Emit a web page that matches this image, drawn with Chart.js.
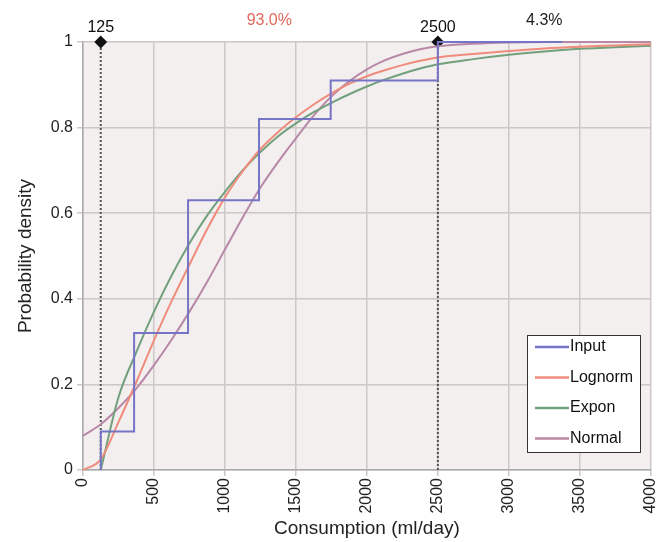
<!DOCTYPE html>
<html>
<head>
<meta charset="utf-8">
<script src="https://cdn.jsdelivr.net/npm/chart.js@4/dist/chart.umd.min.js"></script>
<style>
  html, body { margin: 0; padding: 0; background: #fff; }
  #wrap { width: 672px; height: 542px; }
</style>
</head>
<body>
<div id="wrap"><canvas id="cdfChart" width="672" height="542"></canvas></div>
<script>
// values
const consumption = [0, 125, 250, 375, 500, 625, 750, 875, 1000, 1125, 1250, 1375, 1500, 1625,
                     1750, 1875, 2000, 2125, 2250, 2375, 2500, 2750, 3000, 3250, 3500, 3750, 4000];
const lognorm = [0.0, 0.025, 0.112, 0.205, 0.303, 0.395, 0.48, 0.563, 0.637, 0.698, 0.75, 0.79, 0.824, 0.854,
                 0.88, 0.902, 0.92, 0.934, 0.946, 0.956, 0.964, 0.972, 0.979, 0.985, 0.989, 0.992, 0.995];
const expon = [null, 0, 0.17, 0.275, 0.37, 0.455, 0.53, 0.595, 0.65, 0.70, 0.743, 0.78, 0.81, 0.836,
               0.858, 0.878, 0.896, 0.912, 0.926, 0.938, 0.948, 0.96, 0.97, 0.978, 0.984, 0.988, 0.991];
const normal = [0.08, 0.107, 0.145, 0.19, 0.245, 0.305, 0.37, 0.44, 0.515, 0.59, 0.66, 0.72, 0.775, 0.828,
                0.873, 0.908, 0.936, 0.957, 0.972, 0.983, 0.99, 0.996, 0.999, 1, 1, 1, 1];

// empirical input (step)
const inputX = [125, 125, 360, 740, 1240, 1745, 2500, 3375];
const inputY = [0, 0.09, 0.32, 0.63, 0.82, 0.91, 1, 1];

// delimiters and band percentages
const markerX = [125, 2500];
const bandLabels = ['93.0%', '4.3%'];
const bandColors = ['#e0685c', '#222'];

const yTicks = [0, 0.2, 0.4, 0.6, 0.8, 1];

const FONT = 'Liberation Sans, Arial, sans-serif';

function pts(xs, ys) {
    return xs.map((x, i) => ({ x: x, y: ys[i] }));
}

const curve = (label, ys, color) => ({
    label: label,
    data: pts(consumption, ys),
    borderColor: color,
    borderWidth: 2,
    pointRadius: 0,
    cubicInterpolationMode: 'monotone',
    fill: false,
    clip: false
});

const delimiter = (x) => ({
    label: '_marker',
    data: [{ x: x, y: 0 }, { x: x, y: 1 }],
    borderColor: '#555',
    borderWidth: 2,
    borderDash: [2, 2],
    pointRadius: [0, 5],
    pointStyle: 'rectRot',
    pointBackgroundColor: '#111',
    pointBorderColor: '#111',
    clip: false
});

// plot background
const bgPlugin = {
    id: 'plotBg',
    beforeDraw(chart) {
        const a = chart.chartArea, ctx = chart.ctx;
        ctx.save();
        ctx.fillStyle = '#f3efef';
        ctx.fillRect(a.left, a.top, a.right - a.left, a.bottom - a.top);
        ctx.restore();
    }
};

// texts above plot + legend box
const annotPlugin = {
    id: 'annot',
    afterDraw(chart) {
        const ctx = chart.ctx, xs = chart.scales.x, a = chart.chartArea;
        ctx.save();
        ctx.textAlign = 'center';
        ctx.textBaseline = 'middle';
        ctx.font = '16px ' + FONT;
        ctx.fillStyle = '#111';
        markerX.forEach(v => ctx.fillText(String(v), xs.getPixelForValue(v), a.top - 14));
        const bounds = [markerX[0], markerX[1], xs.max];
        bandLabels.forEach((t, i) => {
            ctx.fillStyle = bandColors[i];
            ctx.fillText(t, xs.getPixelForValue((bounds[i] + bounds[i + 1]) / 2), a.top - 21);
        });

        // legend
        const items = chart.data.datasets.filter(d => d.label[0] !== '_');
        const bx = 527, by = 335, bw = 113, bh = 117;
        ctx.fillStyle = '#fff';
        ctx.fillRect(bx, by, bw, bh);
        ctx.strokeStyle = '#333';
        ctx.lineWidth = 1;
        ctx.strokeRect(bx + 0.5, by + 0.5, bw, bh);
        ctx.textAlign = 'left';
        ctx.font = '16px ' + FONT;
        items.forEach((d, i) => {
            const yy = by + 12 + i * 30.5;
            ctx.strokeStyle = d.borderColor;
            ctx.lineWidth = 2.5;
            ctx.beginPath();
            ctx.moveTo(bx + 8, yy);
            ctx.lineTo(bx + 42, yy);
            ctx.stroke();
            ctx.fillStyle = '#111';
            ctx.fillText(d.label, bx + 43, yy);
        });
        ctx.restore();
    }
};

const ctx = document.getElementById('cdfChart').getContext('2d');
new Chart(ctx, {
    type: 'line',
    data: {
        datasets: [
            {
                label: 'Input',
                data: pts(inputX, inputY),
                stepped: 'before',
                borderColor: '#7674c6',
                borderWidth: 2,
                pointRadius: 0,
                fill: false,
                clip: false
            },
            curve('Lognorm', lognorm, '#ef8c7c'),
            curve('Expon', expon, '#72a07c'),
            curve('Normal', normal, '#b888a6'),
            delimiter(markerX[0]),
            delimiter(markerX[1])
        ]
    },
    options: {
        responsive: false,
        animation: false,
        layout: { padding: { top: 42, right: 20, left: 0, bottom: 0 } },
        plugins: {
            legend: { display: false },
            tooltip: { enabled: false }
        },
        scales: {
            x: {
                type: 'linear',
                min: 0,
                max: 4000,
                ticks: {
                    stepSize: 500,
                    minRotation: 90,
                    maxRotation: 90,
                    color: '#222',
                    font: { family: FONT, size: 16 },
                    padding: 2,
                    callback: v => String(v)
                },
                grid: { color: '#cdc8c8', lineWidth: 1.5, tickLength: 6 },
                border: { color: '#aaa', width: 1.5 },
                title: {
                    display: true,
                    text: 'Consumption (ml/day)',
                    color: '#222',
                    font: { family: FONT, size: 19 },
                    padding: { top: 0, bottom: 2 }
                },
                afterFit(scale) { scale.height = 72; }
            },
            y: {
                min: 0,
                max: 1,
                afterBuildTicks(scale) { scale.ticks = yTicks.map(v => ({ value: v })); },
                ticks: {
                    color: '#222',
                    font: { family: FONT, size: 16 },
                    padding: 4,
                    callback: v => String(v)
                },
                grid: { color: '#cdc8c8', lineWidth: 1.5, tickLength: 6 },
                border: { color: '#aaa', width: 1.5 },
                title: {
                    display: true,
                    text: 'Probability density',
                    color: '#222',
                    font: { family: FONT, size: 19 },
                    padding: { top: 14, bottom: 0 }
                },
                afterFit(scale) { scale.width = 83; }
            }
        }
    },
    plugins: [bgPlugin, annotPlugin]
});
</script>
</body>
</html>
